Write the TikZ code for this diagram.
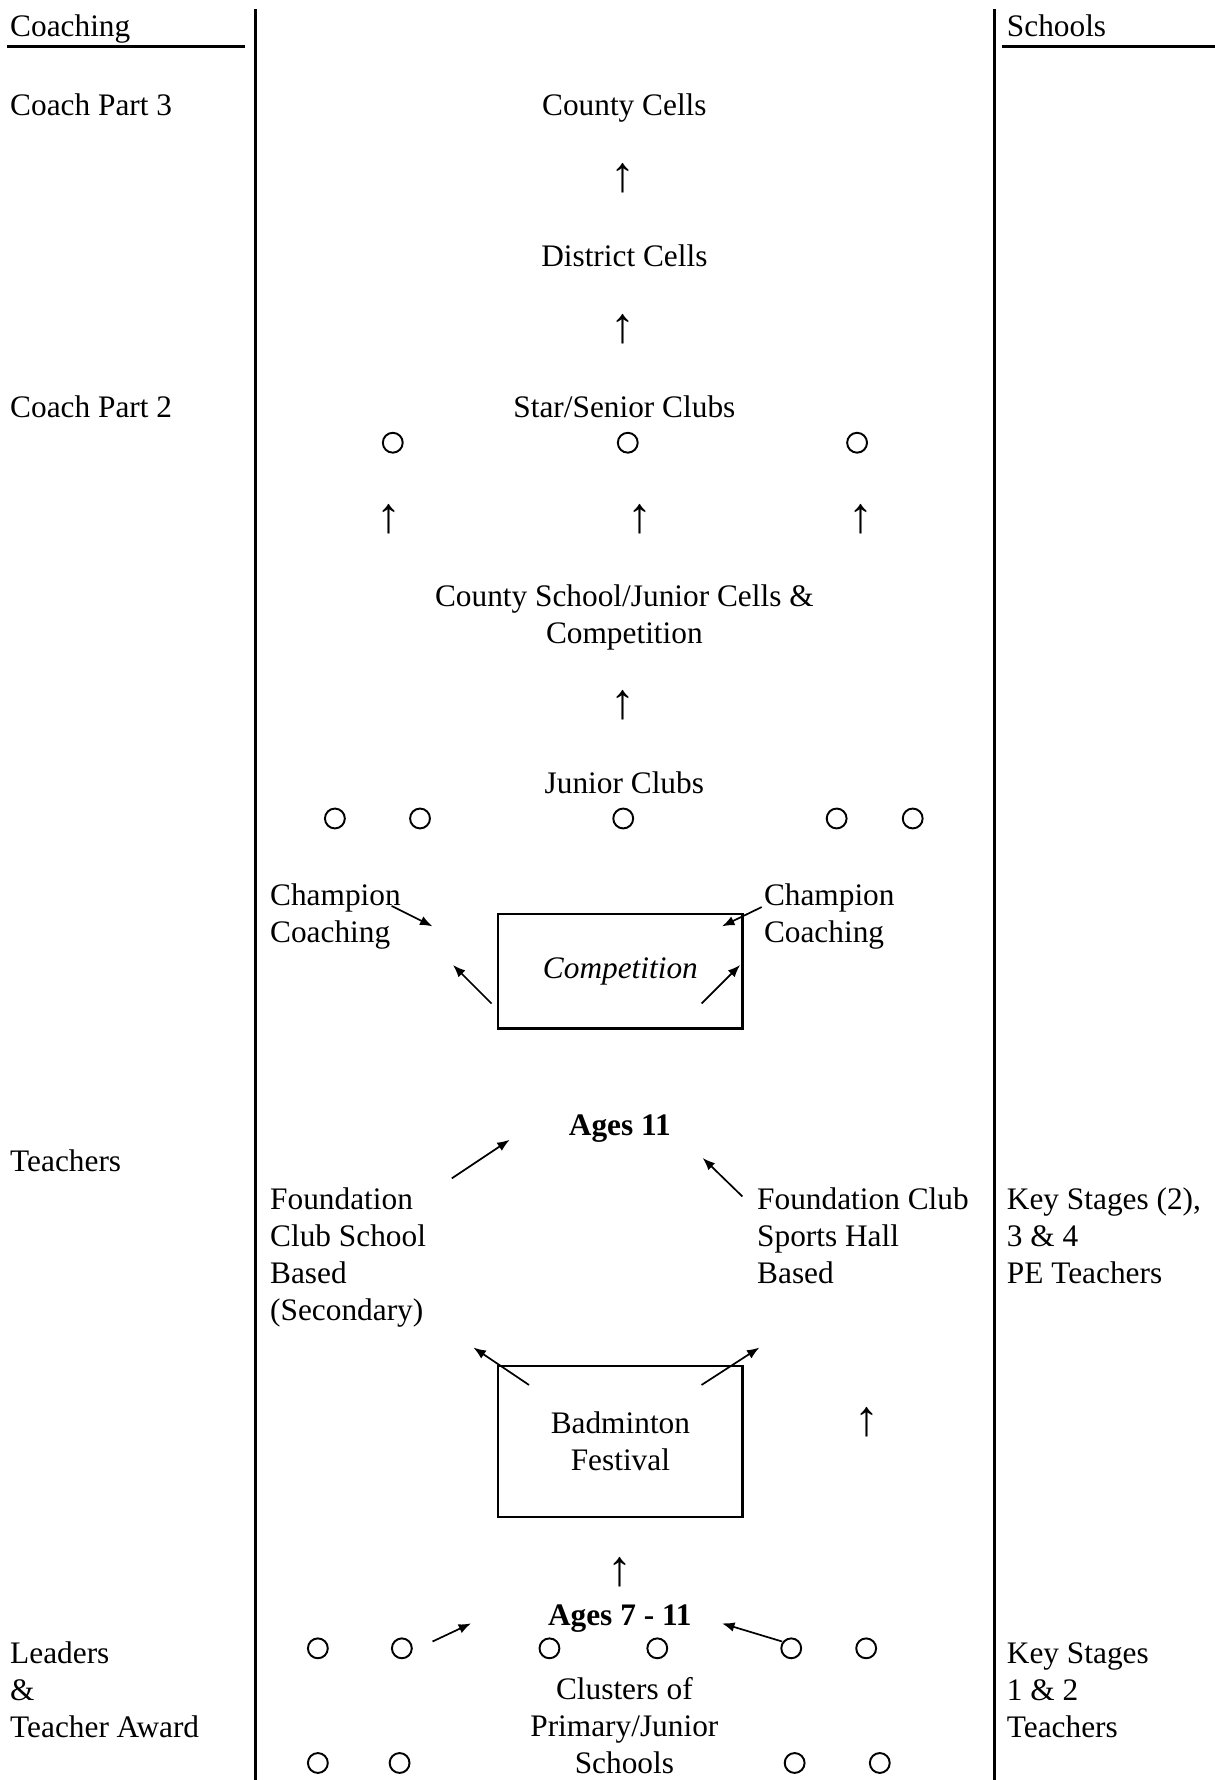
\documentclass[tikz,border=0pt]{standalone}
\usepackage{fontspec}
\setmainfont{Liberation Serif}
\usetikzlibrary{arrows.meta}
\begin{document}
\begin{tikzpicture}[x=1pt,y=-1pt,
  every node/.style={inner sep=0pt, outer sep=0pt, font=\fontsize{27.6}{32.6}\selectfont},
  lbl/.style={anchor=base west, align=left},
  ctr/.style={anchor=base, align=center},
  rulestyle/.style={line width=2pt},
  club/.style={circle, draw, line width=1.7pt, minimum size=17.5pt},
  uparrow/.style={font=\fontsize{44}{44}\selectfont},
  arr/.style={line width=1.5pt, -{Latex[length=11pt,width=8.5pt]}},
  panel/.style={draw, line width=2pt, minimum width=215pt, minimum height=101pt, align=center}]
\useasboundingbox (0,0) rectangle (1070,1568);
% column dividers
\draw[rulestyle] (225,8) -- (225,1568);
\draw[rulestyle] (876,8) -- (876,1568);
\draw[rulestyle] (6,41) -- (216,41);
\draw[rulestyle] (883,41) -- (1070,41);
% headings
\node[lbl] (hcoach) at (9,32) {Coaching};
\node[lbl] (hschool) at (887,32) {Schools};
% left column (multi-line nodes are placed by the baseline of their last line)
\node[lbl] (cp3) at (9,102) {Coach Part 3};
\node[lbl] (cp2) at (9,368) {Coach Part 2};
\node[lbl] (teach) at (9,1032) {Teachers};
\node[lbl] (lead) at (9,1530.2) {Leaders\\\&\\Teacher Award};
% right column
\node[lbl] (ks234) at (887,1130.2) {Key Stages (2),\\3 \& 4\\PE Teachers};
\node[lbl] (ks12) at (887,1530.2) {Key Stages\\1 \& 2\\Teachers};
% centre
\node[ctr] (county) at (550,102) {County Cells};
\node[uparrow] (u1) at (549,157) {↑};
\node[ctr] (district) at (550,235) {District Cells};
\node[uparrow] (u2) at (549,290) {↑};
\node[ctr] (star) at (550,368) {Star/Senior Clubs};
\node[club] (s1) at (346,390) {};
\node[club] (s2) at (553,390) {};
\node[club] (s3) at (755,390) {};
\node[uparrow] (u3) at (343,457) {↑};
\node[uparrow] (u4) at (564,457) {↑};
\node[uparrow] (u5) at (758,457) {↑};
\node[ctr] (cschool) at (550,566.6) {County School/Junior Cells \&\\Competition};
\node[uparrow] (u6) at (549,621) {↑};
\node[ctr] (junior) at (550,699) {Junior Clubs};
\node[club] (j1) at (295,721) {};
\node[club] (j2) at (370,721) {};
\node[club] (j3) at (549,721) {};
\node[club] (j4) at (737,721) {};
\node[club] (j5) at (804,721) {};
\node[lbl] (champL) at (238,830.6) {Champion\\Coaching};
\node[lbl] (champR) at (673,830.6) {Champion\\Coaching};
\node[panel, font=\fontsize{27.6}{32.6}\selectfont\itshape] (comp) at (546.5,855.5) {Competition};
\coordinate (a1s) at (345,798); \coordinate (a1e) at (381,816);
\draw[arr] (a1s) -- (a1e);
\coordinate (a2s) at (671,799); \coordinate (a2e) at (636,816);
\draw[arr] (a2s) -- (a2e);
\coordinate (a3s) at (433,884); \coordinate (a3e) at (399,850);
\draw[arr] (a3s) -- (a3e);
\coordinate (a4s) at (618,884); \coordinate (a4e) at (652,850);
\draw[arr] (a4s) -- (a4e);
\node[ctr, font=\fontsize{27.6}{32.6}\selectfont\bfseries] (ages11) at (546,1000) {Ages 11};
\coordinate (a5s) at (398,1038); \coordinate (a5e) at (449,1004);
\draw[arr] (a5s) -- (a5e);
\coordinate (a6s) at (654,1054); \coordinate (a6e) at (619,1020);
\draw[arr] (a6s) -- (a6e);
\node[lbl] (fcsb) at (238,1162.8) {Foundation\\Club School\\Based\\(Secondary)};
\node[lbl] (fcsh) at (667,1130.2) {Foundation Club\\Sports Hall\\Based};
\node[panel, minimum height=133pt] (fest) at (546.5,1269.5) {Badminton\\Festival};
\coordinate (a7s) at (466,1220); \coordinate (a7e) at (417,1187);
\draw[arr] (a7s) -- (a7e);
\coordinate (a8s) at (618,1220); \coordinate (a8e) at (669,1187);
\draw[arr] (a8s) -- (a8e);
\node[uparrow] (u7) at (764,1253) {↑};
\node[uparrow] (u8) at (546,1385) {↑};
\node[ctr, font=\fontsize{27.6}{32.6}\selectfont\bfseries] (ages7) at (546,1432) {Ages 7 - 11};
\node[club] (p1) at (280,1452) {};
\node[club] (p2) at (354,1452) {};
\node[club] (p3) at (484,1452) {};
\node[club] (p4) at (579,1452) {};
\node[club] (p5) at (697,1452) {};
\node[club] (p6) at (763,1452) {};
\coordinate (a9s) at (381,1446); \coordinate (a9e) at (415,1430);
\draw[arr] (a9s) -- (a9e);
\coordinate (a10s) at (689,1446); \coordinate (a10e) at (636,1430);
\draw[arr] (a10s) -- (a10e);
\node[ctr] (clusters) at (550,1562.2) {Clusters of\\Primary/Junior\\Schools};
\node[club] (q1) at (280,1553) {};
\node[club] (q2) at (352,1553) {};
\node[club] (q3) at (700,1553) {};
\node[club] (q4) at (775,1553) {};
\end{tikzpicture}
\end{document}
